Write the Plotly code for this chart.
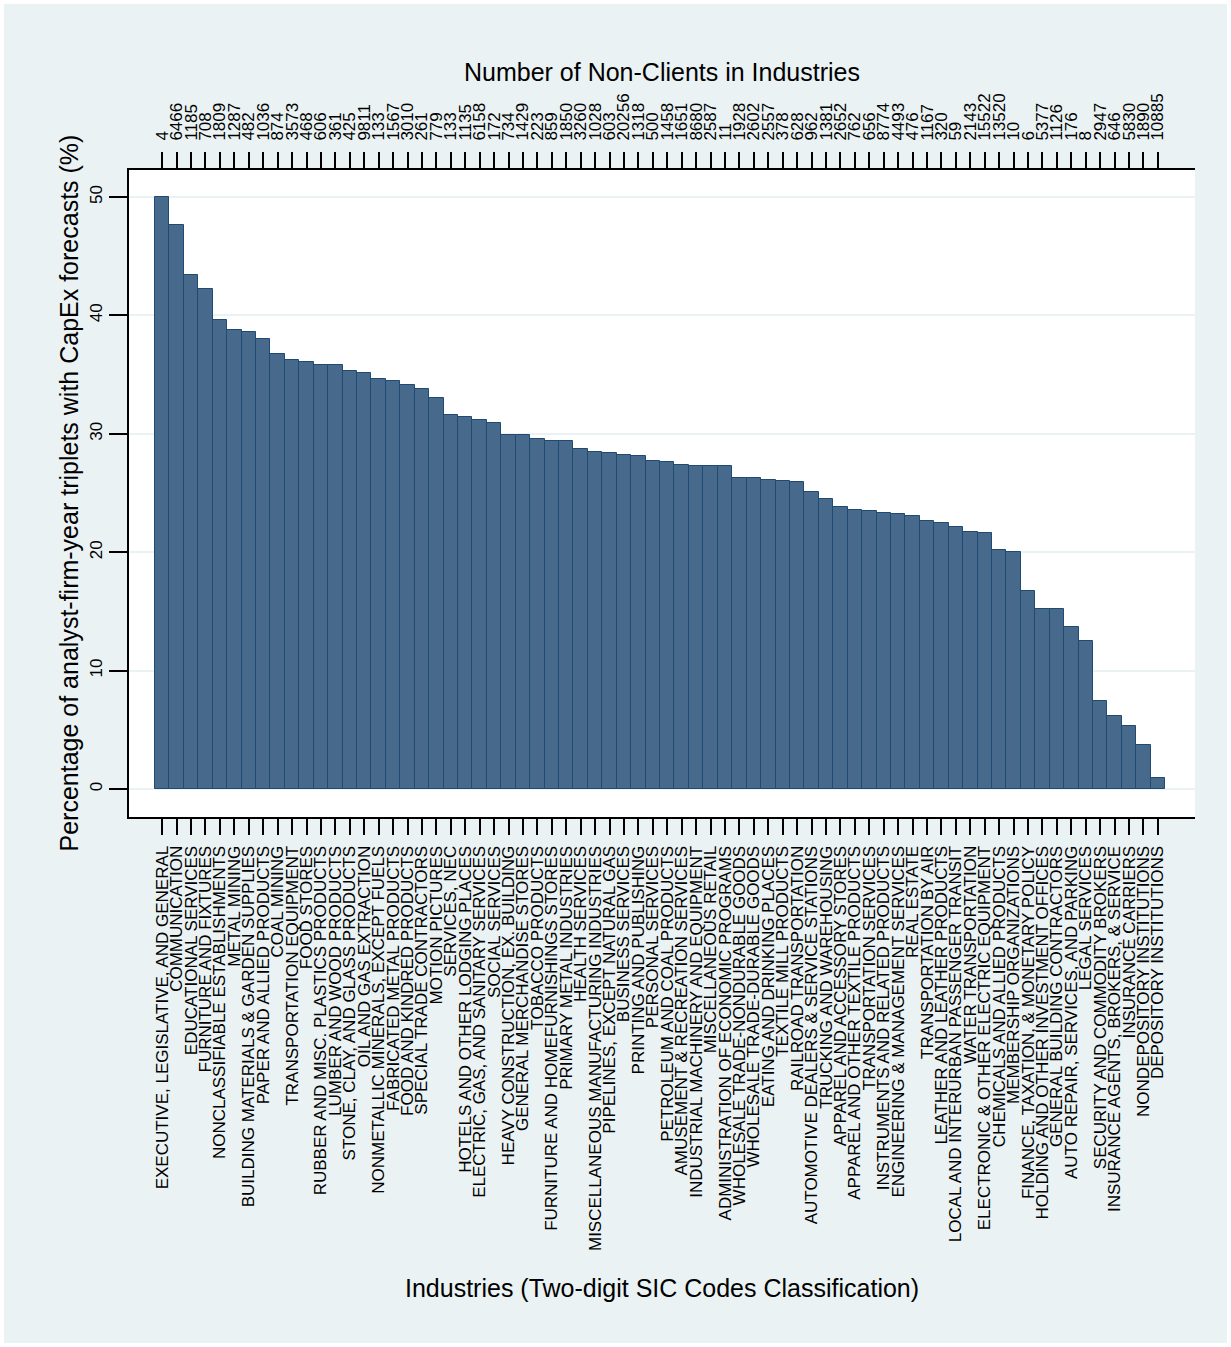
import plotly.graph_objects as go

# Two-digit SIC industries, sorted by share of analyst-firm-year triplets with CapEx forecasts
industries = [
    "EXECUTIVE, LEGISLATIVE, AND GENERAL", "COMMUNICATION", "EDUCATIONAL SERVICES",
    "FURNITURE AND FIXTURES", "NONCLASSIFIABLE ESTABLISHMENTS", "METAL MINING",
    "BUILDING MATERIALS & GARDEN SUPPLIES", "PAPER AND ALLIED PRODUCTS", "COAL MINING",
    "TRANSPORTATION EQUIPMENT", "FOOD STORES", "RUBBER AND MISC. PLASTICS PRODUCTS",
    "LUMBER AND WOOD PRODUCTS", "STONE, CLAY, AND GLASS PRODUCTS", "OIL AND GAS EXTRACTION",
    "NONMETALLIC MINERALS, EXCEPT FUELS", "FABRICATED METAL PRODUCTS", "FOOD AND KINDRED PRODUCTS",
    "SPECIAL TRADE CONTRACTORS", "MOTION PICTURES", "SERVICES, NEC",
    "HOTELS AND OTHER LODGING PLACES", "ELECTRIC, GAS, AND SANITARY SERVICES", "SOCIAL SERVICES",
    "HEAVY CONSTRUCTION, EX. BUILDING", "GENERAL MERCHANDISE STORES", "TOBACCO PRODUCTS",
    "FURNITURE AND HOMEFURNISHINGS STORES", "PRIMARY METAL INDUSTRIES", "HEALTH SERVICES",
    "MISCELLANEOUS MANUFACTURING INDUSTRIES", "PIPELINES, EXCEPT NATURAL GAS", "BUSINESS SERVICES",
    "PRINTING AND PUBLISHING", "PERSONAL SERVICES", "PETROLEUM AND COAL PRODUCTS",
    "AMUSEMENT & RECREATION SERVICES", "INDUSTRIAL MACHINERY AND EQUIPMENT", "MISCELLANEOUS RETAIL",
    "ADMINISTRATION OF ECONOMIC PROGRAMS", "WHOLESALE TRADE-NONDURABLE GOODS",
    "WHOLESALE TRADE-DURABLE GOODS", "EATING AND DRINKING PLACES", "TEXTILE MILL PRODUCTS",
    "RAILROAD TRANSPORTATION", "AUTOMOTIVE DEALERS & SERVICE STATIONS", "TRUCKING AND WAREHOUSING",
    "APPAREL AND ACCESSORY STORES", "APPAREL AND OTHER TEXTILE PRODUCTS", "TRANSPORTATION SERVICES",
    "INSTRUMENTS AND RELATED PRODUCTS", "ENGINEERING & MANAGEMENT SERVICES", "REAL ESTATE",
    "TRANSPORTATION BY AIR", "LEATHER AND LEATHER PRODUCTS", "LOCAL AND INTERURBAN PASSENGER TRANSIT",
    "WATER TRANSPORTATION", "ELECTRONIC & OTHER ELECTRIC EQUIPMENT", "CHEMICALS AND ALLIED PRODUCTS",
    "MEMBERSHIP ORGANIZATIONS", "FINANCE, TAXATION, & MONETARY POLICY",
    "HOLDING AND OTHER INVESTMENT OFFICES", "GENERAL BUILDING CONTRACTORS",
    "AUTO REPAIR, SERVICES, AND PARKING", "LEGAL SERVICES", "SECURITY AND COMMODITY BROKERS",
    "INSURANCE AGENTS, BROKERS, & SERVICE", "INSURANCE CARRIERS", "NONDEPOSITORY INSTITUTIONS",
    "DEPOSITORY INSTITUTIONS",
]

pct_capex = [
    50.0, 47.6, 43.4, 42.2, 39.6, 38.8, 38.6, 38.0, 36.7, 36.2,
    36.1, 35.8, 35.8, 35.3, 35.1, 34.6, 34.5, 34.1, 33.8, 33.0,
    31.6, 31.4, 31.2, 30.9, 29.9, 29.9, 29.6, 29.4, 29.4, 28.7,
    28.5, 28.4, 28.2, 28.1, 27.7, 27.6, 27.4, 27.3, 27.3, 27.3,
    26.3, 26.3, 26.1, 26.0, 25.9, 25.1, 24.5, 23.8, 23.6, 23.5,
    23.3, 23.2, 23.1, 22.6, 22.5, 22.1, 21.7, 21.6, 20.2, 20.0,
    16.7, 15.2, 15.2, 13.7, 12.5, 7.4, 6.2, 5.3, 3.7, 0.9,
]

non_clients = [
    4, 6466, 1185, 708, 1809, 1287, 482, 1036, 874, 3573,
    468, 606, 361, 425, 9811, 133, 1567, 3010, 261, 779,
    133, 1135, 6158, 172, 734, 1429, 223, 859, 1850, 3260,
    1028, 603, 20256, 1318, 500, 1458, 1651, 8680, 2587, 11,
    1928, 2602, 2557, 378, 628, 962, 1381, 2652, 762, 656,
    8774, 4493, 476, 1167, 320, 59, 2143, 15522, 13520, 10,
    6, 5377, 1126, 176, 8, 2947, 646, 5830, 1890, 10885,
]

y_ticks = [0, 10, 20, 30, 40, 50]

pos = list(range(len(industries)))
FONT = "Liberation Sans, Arial, Helvetica, sans-serif"
BG = "#eaf2f3"

fig = go.Figure()
fig.add_trace(go.Bar(
    x=pos, y=pct_capex, width=1.0,
    marker=dict(color="#476a8c", line=dict(color="#1f4a72", width=1)),
    hovertext=industries, showlegend=False,
))
# carrier trace for the top axis showing counts of non-clients
fig.add_trace(go.Scatter(
    x=pos, y=pct_capex, xaxis="x2", mode="markers",
    marker=dict(opacity=0), hoverinfo="skip", showlegend=False,
))

x_range = [-2.30, 71.57]
fig.update_layout(
    width=1231, height=1347,
    margin=dict(l=129, r=36, t=170, b=530),
    paper_bgcolor=BG, plot_bgcolor="white",
    font=dict(family=FONT, color="black"),
    bargap=0,
    xaxis=dict(
        range=x_range, tickmode="array", tickvals=pos, ticktext=industries,
        tickangle=-90, tickfont=dict(size=17), ticks="outside", ticklen=16,
        tickwidth=2, tickcolor="black", showline=True, linecolor="black",
        linewidth=2, showgrid=False, zeroline=False, ticklabelstandoff=4,
    ),
    xaxis2=dict(
        range=x_range, overlaying="x", side="top", tickmode="array",
        tickvals=pos, ticktext=[str(v) for v in non_clients],
        tickangle=-90, tickfont=dict(size=17), ticks="outside", ticklen=16,
        tickwidth=2, tickcolor="black", showline=True, linecolor="black",
        linewidth=2, showgrid=False, zeroline=False, ticklabelstandoff=8,
    ),
    yaxis=dict(
        range=[-2.36, 52.28], tickmode="array", tickvals=y_ticks,
        tickangle=-90, tickfont=dict(size=17), ticks="outside", ticklen=18,
        tickwidth=2, tickcolor="black", showline=True, linecolor="black",
        linewidth=2, showgrid=True, gridcolor=BG, gridwidth=2, zeroline=False,
    ),
    annotations=[
        dict(text="Number of Non-Clients in Industries", xref="paper", yref="paper",
             x=0.5, y=(817 - 72) / 647, xanchor="center", yanchor="middle",
             showarrow=False, font=dict(size=25)),
        dict(text="Industries (Two-digit SIC Codes Classification)", xref="paper", yref="paper",
             x=0.5, y=(817 - 1288) / 647, xanchor="center", yanchor="middle",
             showarrow=False, font=dict(size=25)),
        dict(text="Percentage of analyst-firm-year triplets with CapEx forecasts (%)",
             xref="paper", yref="paper", x=(68 - 129) / 1066, y=0.5,
             xanchor="center", yanchor="middle", textangle=-90,
             showarrow=False, font=dict(size=25)),
    ],
    shapes=[
        dict(type="rect", xref="paper", yref="paper",
             x0=-129 / 1066, x1=(1231 - 129) / 1066,
             y0=-530 / 647, y1=817 / 647,
             line=dict(color="white", width=8), fillcolor="rgba(0,0,0,0)"),
    ],
)

fig.write_html("out.html")
